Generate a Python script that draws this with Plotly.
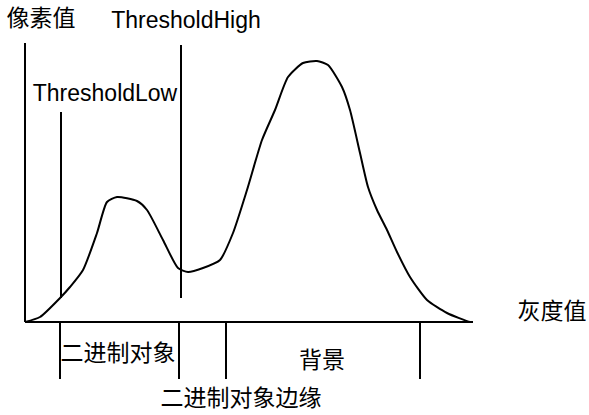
import plotly.graph_objects as go

# histogram sketch: gray level (x) vs pixel count (y)
gray = [0, 15, 35, 45, 58, 72, 82, 92, 112, 122, 138, 153, 163, 178, 195,
        208, 222, 237, 250, 263, 278, 292, 303, 317, 325, 335, 343,
        352, 362, 372, 385, 402, 422, 445, 448]
count = [0, 5, 24, 35, 52, 89, 120, 125, 121, 112, 82, 54, 50, 54, 62,
         89, 132, 182, 212, 245, 259, 261, 257, 235, 212, 169, 135,
         112, 92, 70, 45, 22, 9, 0, 0]

axis_x = [0, 448]
axis_y_top = 279

# threshold lines above the axis
thr_x = [36, 156]
thr_top = [210, 277]
thr_bottom = [24, 24]

# range markers below the axis
range_x = [35, 154, 201, 395]
range_depth = -57

label_text = ["像素值", "ThresholdHigh", "ThresholdLow", "灰度值",
              "二进制对象", "背景", "二进制对象边缘"]
label_x = [16, 161, 80, 527, 93, 297, 216]
label_y = [302, 300, 227, 9, -33, -40, -78]

line = dict(color="black", width=2)
fig = go.Figure()

# axes
fig.add_trace(go.Scatter(x=axis_x, y=[0, 0], mode="lines", line=line))
fig.add_trace(go.Scatter(x=[0, 0], y=[0, axis_y_top], mode="lines", line=line))

# curve
fig.add_trace(go.Scatter(x=gray, y=count, mode="lines",
                         line=dict(color="black", width=2, shape="spline",
                                   smoothing=0.6)))

for x, top, bot in zip(thr_x, thr_top, thr_bottom):
    fig.add_trace(go.Scatter(x=[x, x], y=[bot, top], mode="lines", line=line))

for x in range_x:
    fig.add_trace(go.Scatter(x=[x, x], y=[0, range_depth], mode="lines",
                             line=line))

fig.add_trace(go.Scatter(
    x=label_x, y=label_y, text=label_text, mode="text",
    textposition="middle center",
    textfont=dict(size=23, color="black",
                  family="Liberation Sans, Noto Sans CJK SC"),
))

fig.update_xaxes(range=[-25, 564], visible=False)
fig.update_yaxes(range=[-93, 322], visible=False)
fig.update_layout(
    width=589, height=415,
    showlegend=False,
    plot_bgcolor="white", paper_bgcolor="white",
    margin=dict(l=0, r=0, t=0, b=0),
)
fig.write_html("out.html", config={"displayModeBar": False},
               post_script="document.body.style.margin='0';")
